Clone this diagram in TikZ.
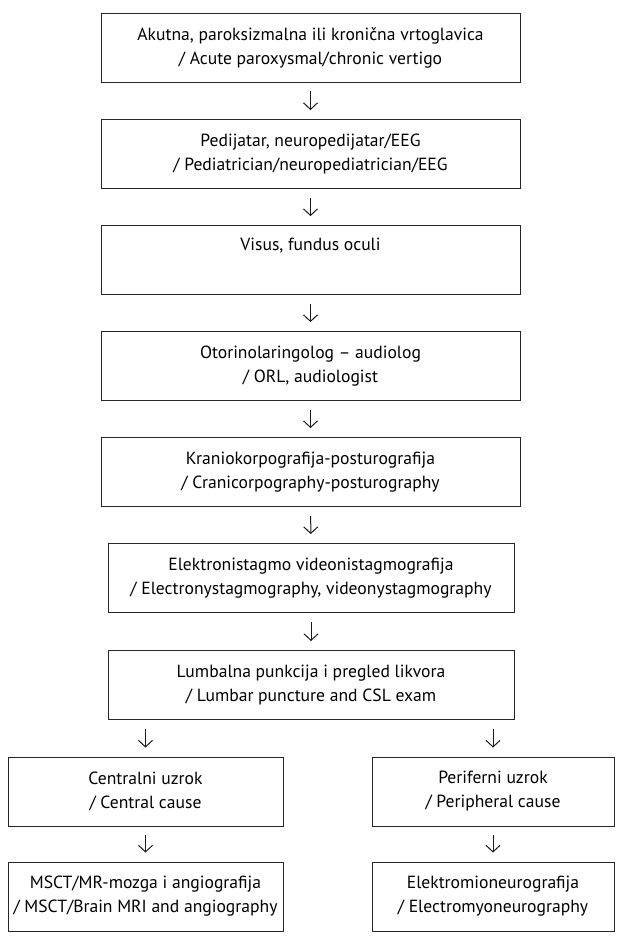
\documentclass[tikz,border=0pt]{standalone}
\usepackage{fontspec}
\setmainfont{PT Sans}
\usetikzlibrary{arrows.meta}
\tikzset{
  box/.style={draw=black!85, line width=0.9pt, fill=white, align=center, inner sep=0pt,
    minimum height=69pt, font=\fontsize{17.6}{24}\selectfont},
  mainbox/.style={box, minimum width=419pt},
  midbox/.style={box, minimum width=406pt},
  sidebox/.style={box, minimum width=275pt},
  sideboxr/.style={box, minimum width=242pt},
  flow/.style={draw=black!90, line width=1pt, -{Straight Barb[length=6.5pt,width=14pt,line width=1pt]},
    shorten <=9pt, shorten >=9pt}
}
\begin{document}
\begin{tikzpicture}[x=1pt,y=1pt]
\useasboundingbox (0,0) rectangle (622,-944);
\node[mainbox] (b1) at (310.5,-47.5) {Akutna, paroksizmalna ili kronična vrtoglavica\\/ Acute paroxysmal/chronic vertigo};
\node[mainbox] (b2) at (310.5,-154) {Pedijatar, neuropedijatar/EEG\\/ Pediatrician/neuropediatrician/EEG};
\node[mainbox] (b3) at (310.5,-260) {Visus, fundus oculi\\\strut};
\node[mainbox] (b4) at (310.5,-366) {Otorinolaringolog – audiolog\\/ ORL, audiologist};
\node[mainbox] (b5) at (310.5,-472) {Kraniokorpografija-posturografija\\/ Cranicorpography-posturography};
\node[midbox] (b6) at (311,-578) {Elektronistagmo videonistagmografija\\/ Electronystagmography, videonystagmography};
\node[midbox] (b7) at (311,-685) {Lumbalna punkcija i pregled likvora\\/ Lumbar puncture and CSL exam};
\node[sidebox] (c1) at (145.5,-791.5) {Centralni uzrok\\/ Central cause};
\node[sideboxr] (p1) at (493,-791.5) {Periferni uzrok\\/ Peripheral cause};
\node[sidebox] (c2) at (145.5,-896.5) {MSCT/MR-mozga i angiografija\\/ MSCT/Brain MRI and angiography};
\node[sideboxr] (p2) at (493,-896.5) {Elektromioneurografija\\/ Electromyoneurography};
\draw[flow] (b1) -- (b2);
\draw[flow] (b2) -- (b3);
\draw[flow] (b3) -- (b4);
\draw[flow] (b4) -- (b5);
\draw[flow] (b5) -- (b6);
\draw[flow] (b6) -- (b7);
\draw[flow] (b7.south -| c1.north) -- (c1.north);
\draw[flow] (b7.south -| p1.north) -- (p1.north);
\draw[flow] (c1) -- (c2);
\draw[flow] (p1) -- (p2);
\end{tikzpicture}
\end{document}
